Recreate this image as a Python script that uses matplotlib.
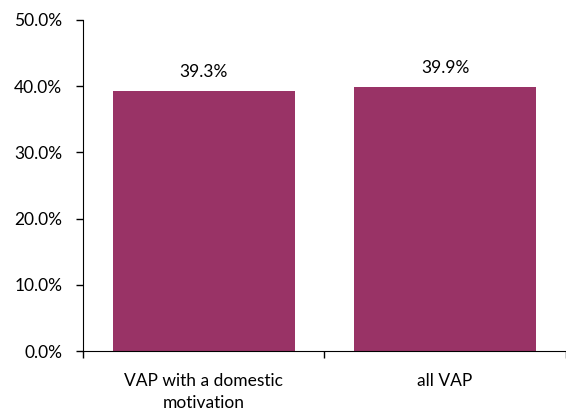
import matplotlib
matplotlib.use("Agg")
import matplotlib.pyplot as plt
from matplotlib.ticker import FuncFormatter, FixedLocator

plt.rcParams.update({"font.family": ["Lato", "DejaVu Sans"], "font.size": 12.5})

categories = ["VAP with a domestic\nmotivation", "all VAP"]
values = [39.3, 39.9]
bar_color = "#993366"

fig = plt.figure(figsize=(5.66, 4.12), dpi=100)
ax = fig.add_axes([0.1466, 0.148, 0.853, 0.8035])

x = list(range(len(categories)))
ax.bar(x, values, width=0.755, color=bar_color)
for xi, v in zip(x, values):
    ax.text(xi, v + 1.6, f"{v:.1f}%", ha="center", va="bottom")

ax.set_xlim(-0.5, len(categories) - 0.5)
ax.set_ylim(0, 50)
ax.set_yticks([0, 10, 20, 30, 40, 50])
ax.yaxis.set_major_formatter(FuncFormatter(lambda v, _: f"{v:.1f}%"))

ax.set_xticks(x)
ax.set_xticklabels(categories, linespacing=1.45)
ax.tick_params(axis="x", which="major", length=0, pad=16)
ax.xaxis.set_minor_locator(FixedLocator([-0.5, 0.5, 1.5]))
ax.tick_params(axis="x", which="minor", length=5, direction="out", width=1)
ax.tick_params(axis="y", length=5, direction="out", width=1, pad=10)

ax.spines["top"].set_visible(False)
ax.spines["right"].set_visible(False)

fig.savefig("out.png", dpi=100)
